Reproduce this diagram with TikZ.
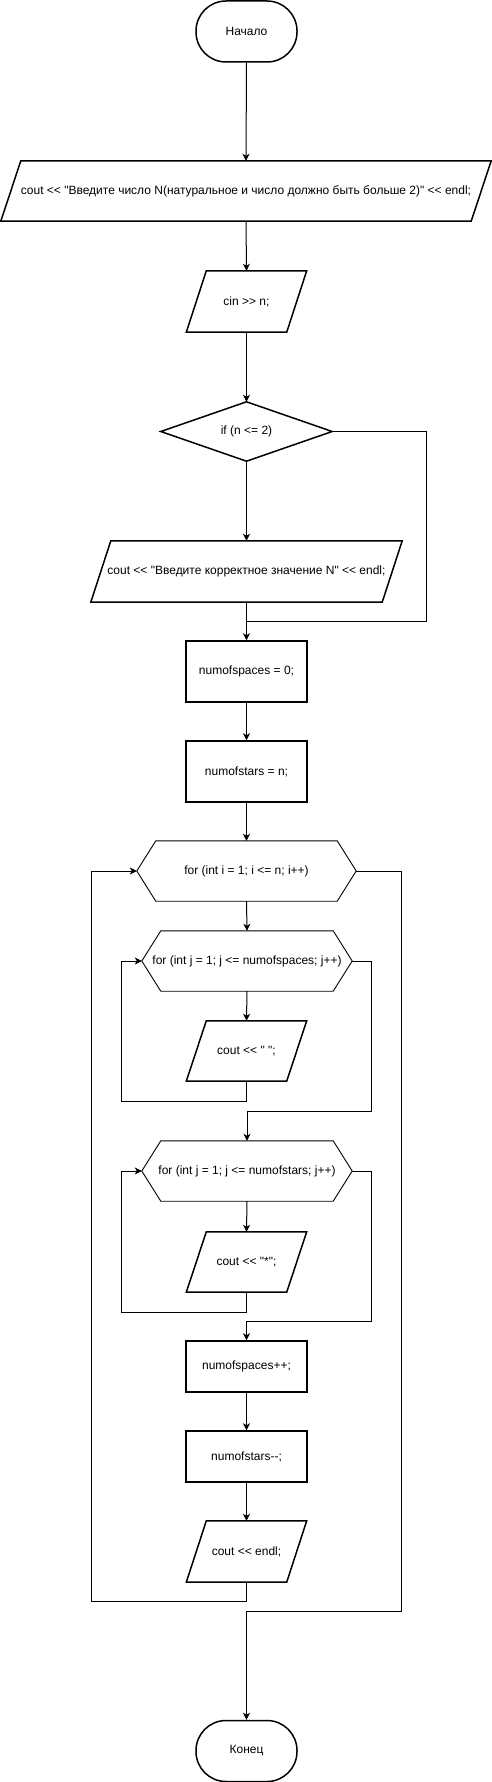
\documentclass[tikz,border=0pt]{standalone}
\usepackage{fontspec}
\newfontfamily\lbfont{Liberation Sans}
\usetikzlibrary{arrows.meta,calc}
\tikzset{
  lbl/.style={inner sep=0pt, font=\lbfont\fontsize{12}{14}\selectfont},
  shapeline/.style={line width=1.5pt, line join=miter},
  hexline/.style={line width=0.9pt},
  procbox/.style={lbl, draw, shapeline, minimum width=121pt},
  termbox/.style={lbl, draw, shapeline, rounded corners=30pt, minimum width=101pt, minimum height=61pt},
  conn/.style={line width=1pt, -{Stealth[length=7pt,width=7pt,inset=2pt]}},
  plain/.style={line width=1pt},
}
\newcommand\drawpara[2]{\draw[shapeline] ($(#1.north west)+(#2,0)$) -- (#1.north east) -- ($(#1.south east)+(-#2,0)$) -- (#1.south west) -- cycle;}
\newcommand\drawhex[2]{\draw[hexline] (#1.west) -- ($(#1.north west)+(#2,0)$) -- ($(#1.north east)+(-#2,0)$) -- (#1.east) -- ($(#1.south east)+(-#2,0)$) -- ($(#1.south west)+(#2,0)$) -- cycle;}
\begin{document}
\begin{tikzpicture}[x=1pt,y=-1pt]
\useasboundingbox[fill=white] (0,0) rectangle (492,1782);

% nodes
\node[termbox] (start) at (246.5,31.5) {Начало};
\node[lbl, minimum width=490pt, minimum height=60pt] (p1) at (246,191) {cout << "Введите число N(натуральное и число должно быть больше 2)" << endl;};
\node[lbl, minimum width=120pt, minimum height=61pt] (cin) at (246.5,301.5) {cin >> n;};
\node[lbl, minimum width=171pt, minimum height=59pt] (dia) at (246.5,431.5) {if (n <= 2)};
\node[lbl, minimum width=311pt, minimum height=61pt] (p2) at (246.5,571.5) {cout << "Введите корректное значение N" << endl;};
\node[procbox, minimum height=61pt] (ns0) at (246.5,671.5) {numofspaces = 0;};
\node[procbox, minimum height=61pt] (nst) at (246.5,771.5) {numofstars = n;};
\node[lbl, minimum width=219pt, minimum height=60pt] (h1) at (246.5,871) {for (int i = 1; i <= n; i++)};
\node[lbl, minimum width=210pt, minimum height=60pt] (h2) at (247,961) {for (int j = 1; j <= numofspaces; j++)};
\node[lbl, minimum width=120pt, minimum height=60pt] (pc1) at (246.5,1051) {cout << " ";};
\node[lbl, minimum width=210pt, minimum height=60pt] (h3) at (247,1171) {for (int j = 1; j <= numofstars; j++)};
\node[lbl, minimum width=120pt, minimum height=60pt] (pc2) at (246.5,1262) {cout << "*";};
\node[procbox, minimum height=51pt] (nspp) at (246.5,1366.5) {numofspaces++;};
\node[procbox, minimum height=51pt] (nstm) at (246.5,1456.5) {numofstars--;};
\node[lbl, minimum width=120pt, minimum height=61pt] (pe) at (246.5,1551.5) {cout << endl;};
\node[termbox] (end) at (246.5,1751) {Конец};

% outlines
\drawpara{p1}{20}
\drawpara{cin}{20}
\draw[shapeline] (dia.north) -- (dia.east) -- (dia.south) -- (dia.west) -- cycle;
\drawpara{p2}{20}
\drawhex{h1}{19}
\drawhex{h2}{19}
\drawpara{pc1}{20}
\drawhex{h3}{19}
\drawpara{pc2}{20}
\drawpara{pe}{20}

% helper coordinates
\coordinate (m1) at (246.5,621);
\coordinate (r1) at (426,621);
\coordinate (c1) at (121,1101);
\coordinate (c2) at (371,1111);
\coordinate (c3) at (121,1312);
\coordinate (c4) at (371,1321);
\coordinate (c5) at (91,1601);
\coordinate (c6) at (401,1611);

% connectors
\draw[conn] (start.south) -- (p1.north);
\draw[conn] (p1.south) -- (cin.north);
\draw[conn] (cin.south) -- (dia.north);
\draw[conn] (dia.south) -- (p2.north);
\draw[conn] (p2.south) -- (ns0.north);
\draw[plain] (dia.east) -| (r1) -- (m1);
\draw[conn] (ns0.south) -- (nst.north);
\draw[conn] (nst.south) -- (h1.north);
\draw[conn] (h1.south) -- (h2.north);
\draw[conn] (h2.south) -- (pc1.north);
\draw[conn] (pc1.south) |- (c1) |- (h2.west);
\draw[conn] (h2.east) -| (c2) -| (h3.north);
\draw[conn] (h3.south) -- (pc2.north);
\draw[conn] (pc2.south) |- (c3) |- (h3.west);
\draw[conn] (h3.east) -| (c4) -| (nspp.north);
\draw[conn] (nspp.south) -- (nstm.north);
\draw[conn] (nstm.south) -- (pe.north);
\draw[conn] (pe.south) |- (c5) |- (h1.west);
\draw[conn] (h1.east) -| (c6) -| (end.north);
\end{tikzpicture}
\end{document}
